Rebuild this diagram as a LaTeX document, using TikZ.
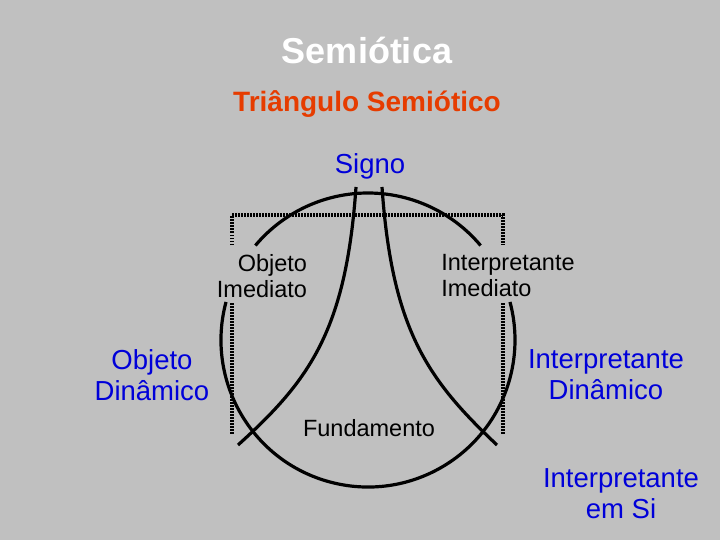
\documentclass[tikz,border=0pt]{standalone}
\usepackage{fontspec}
\setmainfont{Liberation Sans}
\begin{document}
\begin{tikzpicture}[x=1pt,y=-1pt,
  ttl/.style={font=\bfseries\fontsize{36}{40}\selectfont,text=white},
  sub/.style={font=\bfseries\fontsize{28}{32}\selectfont,text=titlered},
  blu/.style={font=\fontsize{27.5}{31}\selectfont,text=blue!85!black,align=center,inner sep=0pt},
  blk/.style={font=\fontsize{23.5}{26}\selectfont,align=center,inner sep=0pt},
  curve/.style={line width=3.2pt},
  dot/.style={line width=3.2pt,dash pattern=on 1.5pt off 1.5pt}]
\definecolor{titlered}{RGB}{230,60,0}
\fill[fill={rgb,255:red,192;green,192;blue,192}] (0,0) rectangle (720,540);
\useasboundingbox (0,0) rectangle (720,540);
\node[ttl] (t) at (367,50) {Semiótica};
\node[sub] (s) at (367,104) {Triângulo Semiótico};
\node[blu] (sig) at (370,166) {Signo};
\node[blk,align=right] (oi) at (262,276) {\hfill Objeto\\Imediato};
\node[blk,align=left] (ii) at (508,276) {Interpretante\\Imediato};
\node[blu] (od) at (152,375) {Objeto\\Dinâmico};
\node[blu] (id) at (606,375) {Interpretante\\Dinâmico};
\node[blk] (f) at (369,428) {Fundamento};
\node[blu] (is) at (621,494) {Interpretante\\em Si};
\coordinate (c) at (368,340);
\draw[curve] (c) ++(-40:147) arc[start angle=-40,end angle=-140,radius=147];
\draw[curve] (c) ++(195:147) arc[start angle=195,end angle=-15,radius=147];
\draw[dot] (232,245) -- (232,215) -- (503,215) -- (503,245);
\draw[dot] (232,303) -- (232,435);
\draw[dot] (503,303) -- (503,435);
\draw[curve] (356,187) .. controls (346,330) and (310,380) .. (238,445);
\draw[curve] (382,187) .. controls (392,330) and (428,380) .. (497,445);
\end{tikzpicture}
\end{document}
